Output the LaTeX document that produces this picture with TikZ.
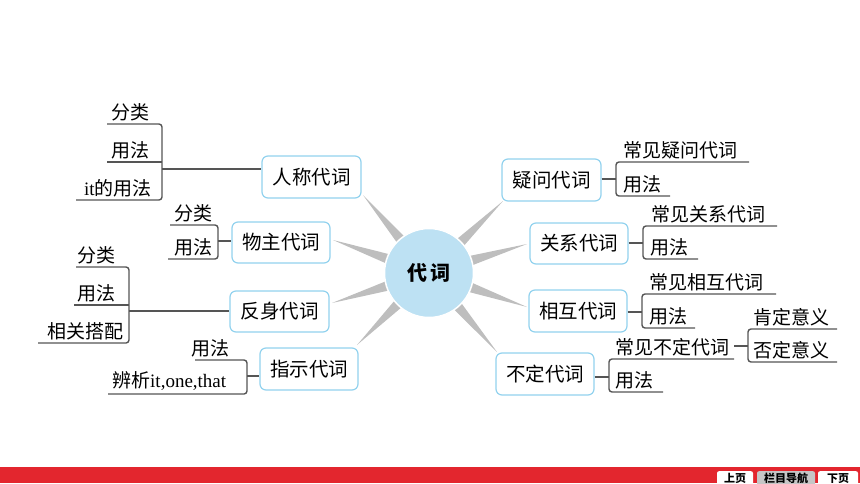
\documentclass[tikz,border=0pt]{standalone}
\usepackage{fontspec}
\setmainfont{Liberation Serif}
\newfontfamily\cjk{Noto Sans CJK SC}
\usetikzlibrary{calc}
\definecolor{boxblue}{HTML}{92D2EE}
\definecolor{circblue}{HTML}{BDE1F3}
\definecolor{linegray}{HTML}{555555}
\definecolor{spokegray}{HTML}{BEBEBE}
\definecolor{barred}{HTML}{E3262E}
\definecolor{btngray}{HTML}{C6C6C6}
\tikzset{
  mainbox/.style={draw=boxblue, line width=1.2pt, rounded corners=6pt, fill=white,
    minimum width=98pt, minimum height=42pt, inner sep=0pt,
    font=\fontsize{19.5}{21}\selectfont\cjk},
  leaf/.style={anchor=south west, inner sep=0pt, font=\fontsize{19}{21}\selectfont},
  link/.style={draw=linegray, line width=1.4pt, rounded corners=3pt},
  spoke/.style={fill=spokegray},
  btn/.style={draw=none, rounded corners=2pt, minimum height=15pt, inner sep=0pt,
    anchor=north, font=\fontsize{11}{12}\selectfont\cjk\bfseries}
}
\begin{document}
\begin{tikzpicture}[x=1pt,y=-1pt]
\useasboundingbox (0,0) rectangle (860,483);

% centre and spokes
\coordinate (c) at (429,273);
\coordinate (s1) at (363,195);
\coordinate (s2) at (333,240);
\coordinate (s3) at (332,303);
\coordinate (s4) at (357,345);
\coordinate (s5) at (503,201);
\coordinate (s6) at (527,244);
\coordinate (s7) at (527,307);
\coordinate (s8) at (497,352);
\foreach \s in {s1,s2,s3,s4,s5,s6,s7,s8}
  \fill[spoke] (\s) -- ($(c)!36pt!(\s)!5.5pt!90:(\s)$) -- ($(c)!36pt!(\s)!5.5pt!-90:(\s)$) -- cycle;
\node[circle, fill=circblue, draw=white, line width=1.5pt, minimum size=89pt, inner sep=0pt,
  font=\fontsize{20}{21}\selectfont\cjk\bfseries] (center) at (c) {代\kern3pt词};

% main boxes
\node[mainbox, minimum width=99pt] (b1) at (311.5,177) {人称代词};
\node[mainbox, minimum height=41pt] (b2) at (281,242.5) {物主代词};
\node[mainbox, minimum width=99pt, minimum height=41pt] (b3) at (279.5,311.5) {反身代词};
\node[mainbox] (b4) at (309,369) {指示代词};
\node[mainbox, minimum width=99pt] (b5) at (551.5,180) {疑问代词};
\node[mainbox, minimum height=41pt] (b6) at (579,243.5) {关系代词};
\node[mainbox] (b7) at (578,311) {相互代词};
\node[mainbox] (b8) at (545,374) {不定代词};

% --- 人称代词
\node[leaf] (l11) at (111,121) {\cjk 分类};
\node[leaf] (l12) at (111,159) {\cjk 用法};
\node[leaf] (l13) at (84,197) {it\cjk 的用法};
\coordinate (j1) at (162,169);
\draw[link] (107,124) -- (162,124) -- (162,200) -- (76,200);
\draw[link] (107,162) -- (162,162);
\draw[link] (j1) -- (j1 -| b1.west);

% --- 物主代词
\node[leaf] (l21) at (174,222) {\cjk 分类};
\node[leaf] (l22) at (174,256) {\cjk 用法};
\coordinate (j2) at (218,241);
\draw[link] (170,225) -- (218,225) -- (218,259) -- (168,259);
\draw[link] (j2) -- (j2 -| b2.west);

% --- 反身代词
\node[leaf] (l31) at (77,264) {\cjk 分类};
\node[leaf] (l32) at (77,302) {\cjk 用法};
\node[leaf] (l33) at (47,340) {\cjk 相关搭配};
\coordinate (j3) at (129,311);
\draw[link] (76,267) -- (129,267) -- (129,343) -- (38,343);
\draw[link] (74,305) -- (129,305);
\draw[link] (j3) -- (j3 -| b3.west);

% --- 指示代词
\node[leaf] (l41) at (191,357) {\cjk 用法};
\node[leaf] (l42) at (112,391) {{\cjk 辨析}it,one,that};
\coordinate (j4) at (247,376);
\draw[link] (195,360) -- (247,360) -- (247,394) -- (108,394);
\draw[link] (j4) -- (j4 -| b4.west);

% --- 疑问代词
\node[leaf] (l51) at (623,159) {\cjk 常见疑问代词};
\node[leaf] (l52) at (623,193) {\cjk 用法};
\coordinate (j5) at (616,179);
\draw[link] (749,162) -- (616,162) -- (616,196) -- (670,196);
\draw[link] (b5.east |- j5) -- (j5);

% --- 关系代词
\node[leaf] (l61) at (651,223) {\cjk 常见关系代词};
\node[leaf] (l62) at (650,256) {\cjk 用法};
\coordinate (j6) at (643,243);
\draw[link] (777,226) -- (643,226) -- (643,259) -- (698,259);
\draw[link] (b6.east |- j6) -- (j6);

% --- 相互代词
\node[leaf] (l71) at (649,291) {\cjk 常见相互代词};
\node[leaf] (l72) at (649,325) {\cjk 用法};
\coordinate (j7) at (642,312);
\draw[link] (776,294) -- (642,294) -- (642,328) -- (695,328);
\draw[link] (b7.east |- j7) -- (j7);

% --- 不定代词
\node[leaf] (l81) at (615,356) {\cjk 常见不定代词};
\node[leaf] (l82) at (615,389) {\cjk 用法};
\coordinate (j8) at (609,377);
\draw[link] (734,359) -- (609,359) -- (609,392) -- (663,392);
\draw[link] (b8.east |- j8) -- (j8);

% --- sub group
\node[leaf] (l91) at (753,326) {\cjk 肯定意义};
\node[leaf] (l92) at (753,359) {\cjk 否定意义};
\coordinate (j9a) at (734,346);
\coordinate (j9) at (748,346);
\draw[link] (837,329) -- (748,329) -- (748,362) -- (837,362);
\draw[link] (j9a) -- (j9);

% bottom bar
\fill[barred] (0,467) rectangle (860,483);
\node[btn, fill=white, minimum width=36pt] (prev) at (735,471) {上页};
\node[btn, fill=btngray, minimum width=58pt] (nav) at (786,471) {栏目导航};
\node[btn, fill=white, minimum width=40pt] (next) at (838,471) {下页};
\end{tikzpicture}
\end{document}
